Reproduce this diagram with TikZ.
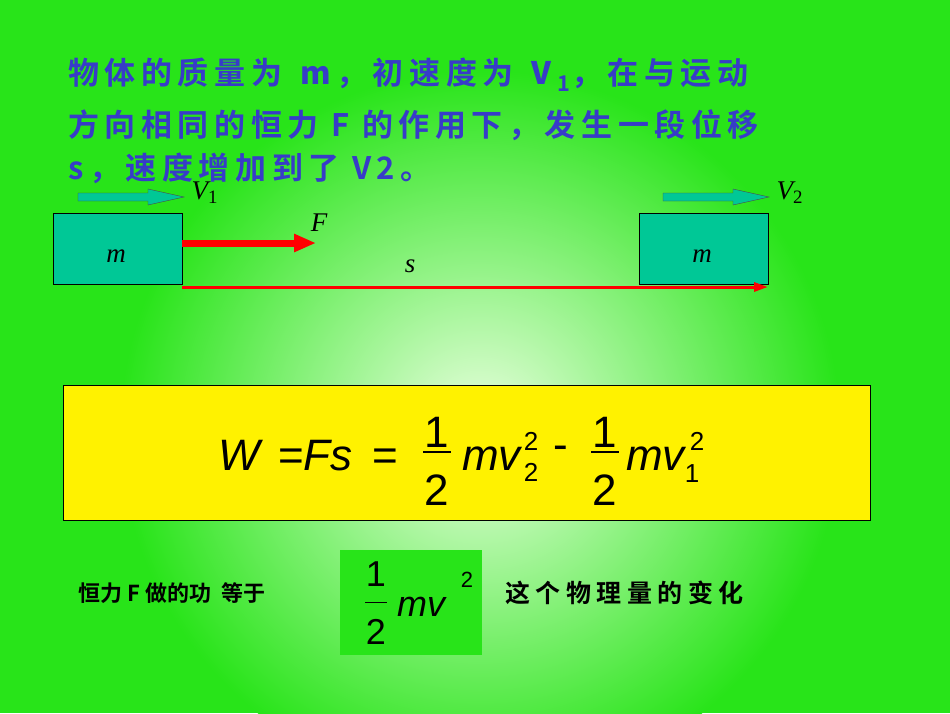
\documentclass[tikz,border=0pt]{standalone}
\usepackage{fontspec}
\setmainfont{Liberation Serif}
\newfontfamily\cjk{Noto Sans CJK SC}[BoldFont={* Bold},LetterSpace=18]
\newfontfamily\arial{Liberation Sans}
\usetikzlibrary{arrows.meta}
\definecolor{bg}{RGB}{40,228,25}
\definecolor{glow}{RGB}{235,255,225}
\definecolor{txt}{RGB}{55,60,200}
\definecolor{teal}{RGB}{0,200,150}
\begin{document}
\begin{tikzpicture}[x=1pt,y=-1pt,
  blk/.style={draw=black,fill=teal,minimum width=129pt,minimum height=71pt,inner sep=0pt},
  vel/.style={draw=black!70,fill=teal},
  lab/.style={font=\fontsize{27}{27}\selectfont\itshape},
  f/.style={font=\arial\fontsize{#1}{#1}\selectfont,inner sep=0pt},
  ctext/.style={text=txt,font=\cjk\bfseries\fontsize{31}{34}\selectfont,anchor=west,inner sep=0pt}]
\fill[bg] (0,0) rectangle (950,713);
\begin{scope}
\clip (0,0) rectangle (950,713);
\shade[inner color=glow,outer color=bg] (480,430) circle (360);
\end{scope}
\useasboundingbox (0,0) rectangle (950,713);
\node[ctext] (t1) at (68,75) {物体的质量为 \textit{m}，初速度为 \textit{V}\textsubscript{1}，在与运动};
\node[ctext] (t2) at (68,125) {方向相同的恒力 F 的作用下，发生一段位移};
\node[ctext] (t3) at (68,168) {s，速度增加到了 V2。};
\node[blk] (b1) at (117.5,248.5) {};
\node[blk] (b2) at (704,248.5) {};
\node[lab] at (116,256) {m};
\node[lab] at (702,256) {m};
\foreach \x in {78,663} {
  \draw[vel] (\x,193) -- ++(70,0) -- ++(0,-4) -- ++(36,8) -- ++(-36,8) -- ++(0,-4) -- ++(-70,0) -- cycle;
}
\node[lab,anchor=west] at (188,193) {V\textsubscript{\normalfont 1}};
\node[lab,anchor=west] at (773,193) {V\textsubscript{\normalfont 2}};
\draw[red,line width=7pt,-{Triangle[length=22pt,width=17pt]}] (b1.east|-0,243) -- (316,243);
\draw[red,line width=3pt,-{Triangle[length=14pt,width=9pt]}] (b1.east|-0,287) -- (768,287);
\node[lab] at (319,223) {F};
\node[lab] at (410,266) {s};
\node[draw=black,fill=yellow,minimum width=807pt,minimum height=135pt,inner sep=0pt] (eq) at (466.5,452.5) {};
\node[f=44,anchor=base west] at (218,470) {\itshape W};
\node[f=44,anchor=base west] at (278,470) {=\itshape Fs};
\node[f=44,anchor=base west] at (372,470) {=};
\node[f=44] at (437,432) {1};
\draw[line width=1.2pt] (423,452) -- (451,452);
\node[f=44] at (437,490) {2};
\node[f=44,anchor=base west] at (462,470) {\itshape mv};
\node[f=26] at (531,441) {2};
\node[f=26] at (531,472) {2};
\node[f=44] at (561,453) {-};
\node[f=44] at (605,432) {1};
\draw[line width=1.2pt] (591,452) -- (619,452);
\node[f=44] at (605,490) {2};
\node[f=44,anchor=base west] at (626,470) {\itshape mv};
\node[f=26] at (697,441) {2};
\node[f=26] at (692,474) {1};
\node[ctext,text=black,font=\cjk\bfseries\fontsize{22}{26}\selectfont\addfontfeature{LetterSpace=0}] (l1) at (78,593) {恒力 F 做的功 \ 等于};
\node[fill=bg,minimum width=142pt,minimum height=105pt,inner sep=0pt] (g) at (411,602.5) {};
\node[f=36] at (376,574) {1};
\draw[line width=1pt] (365,602) -- (387,602);
\node[f=36] at (376,632) {2};
\node[f=36,anchor=base west] at (397,616) {\itshape mv};
\node[f=22] at (467,580) {2};
\node[ctext,text=black,font=\cjk\bfseries\fontsize{25}{26}\selectfont\addfontfeature{LetterSpace=22}] (l2) at (505,593) {这个物理量的变化};
\end{tikzpicture}
\end{document}
